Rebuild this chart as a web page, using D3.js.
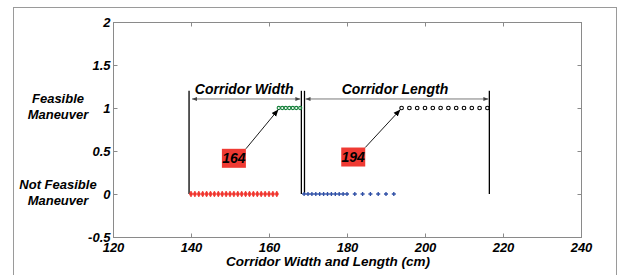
<!DOCTYPE html>
<html>
<head>
<meta charset="utf-8" />
<script src="https://d3js.org/d3.v7.min.js"></script>
<style>
  body { margin: 0; background: #fff; }
  svg text { font-family: "Liberation Sans", Arial, sans-serif; font-weight: bold; font-style: italic; }
  .axis path, .axis line { stroke: #8a8a8a; }
  .axis text { font-size: 13px; fill: #000; }
</style>
</head>
<body>
<svg id="chart" width="619" height="275"></svg>
<script>
// values
var notFeasibleWidth = [140,141,142,143,144,145,146,147,148,149,150,151,152,153,154,155,156,157,158,159,160,161,162];
var feasibleWidth = [162.5,163.4,164.3,165.2,166.1,167,168];
var notFeasibleLength = [169,170,171,172,173,174,175,176,177,178,179,180,182,184,186,188,190,192];
var feasibleLength = [194,196,198,200,202,204,206,208,210,212,214,216];
var boundaryLines = [139.5, 168.3, 169.1, 216.5];
var spans = [
  {label: "Corridor Width", from: 140, to: 168.3},
  {label: "Corridor Length", from: 169.1, to: 216.5}
];
var callouts = [
  {label: "164", bx: 151, by: 0.415, tx: 162.4},
  {label: "194", bx: 181.6, by: 0.43, tx: 193.7}
];
var xTicks = [120,140,160,180,200,220,240];
var yTicks = [-0.5,0,0.5,1,1.5,2];

var svg = d3.select("#chart");

// outer frame
svg.append("rect")
  .attr("x", 13.5).attr("y", 7.5)
  .attr("width", 603).attr("height", 300)
  .attr("fill", "none").attr("stroke", "#9a9a9a");

var pLeft = 113, pRight = 581, pTop = 22, pBottom = 237;
var x = d3.scaleLinear().domain([120, 240]).range([pLeft, pRight]);
var y = d3.scaleLinear().domain([-0.5, 2]).range([pBottom, pTop]);

var defs = svg.append("defs");
defs.append("marker")
  .attr("id", "head")
  .attr("viewBox", "0 0 10 10")
  .attr("refX", 10).attr("refY", 5)
  .attr("markerWidth", 7).attr("markerHeight", 7)
  .attr("orient", "auto-start-reverse")
  .attr("markerUnits", "userSpaceOnUse")
  .append("path").attr("d", "M0,1 L10,5 L0,9 Z").attr("fill", "#000");

defs.append("marker")
  .attr("id", "small")
  .attr("viewBox", "0 0 10 10")
  .attr("refX", 10).attr("refY", 5)
  .attr("markerWidth", 6).attr("markerHeight", 5)
  .attr("orient", "auto-start-reverse")
  .attr("markerUnits", "userSpaceOnUse")
  .append("path").attr("d", "M0,1 L10,5 L0,9 Z").attr("fill", "#444");

// axes box with inward ticks
svg.append("rect")
  .attr("x", pLeft + 0.5).attr("y", pTop + 0.5)
  .attr("width", pRight - pLeft).attr("height", pBottom - pTop)
  .attr("fill", "none").attr("stroke", "#8a8a8a");

svg.append("g").attr("class", "axis")
  .attr("transform", "translate(0," + (pBottom + 0.5) + ")")
  .call(d3.axisBottom(x).tickValues(xTicks).tickSizeInner(-4).tickSizeOuter(0).tickPadding(5).tickFormat(d3.format("d")))
  .call(function(g){ g.select(".domain").remove(); });

svg.append("g").attr("class", "axis")
  .attr("transform", "translate(0," + (pTop + 0.5) + ")")
  .call(d3.axisTop(x).tickValues(xTicks).tickSizeInner(-4).tickSizeOuter(0).tickFormat(""))
  .call(function(g){ g.select(".domain").remove(); });

svg.append("g").attr("class", "axis")
  .attr("transform", "translate(" + (pLeft + 0.5) + ",0)")
  .call(d3.axisLeft(y).tickValues(yTicks).tickSizeInner(-4).tickSizeOuter(0).tickPadding(3).tickFormat(function(d){ return String(d); }))
  .call(function(g){ g.select(".domain").remove(); });

svg.append("g").attr("class", "axis")
  .attr("transform", "translate(" + (pRight + 0.5) + ",0)")
  .call(d3.axisRight(y).tickValues(yTicks).tickSizeInner(-4).tickSizeOuter(0).tickFormat(""))
  .call(function(g){ g.select(".domain").remove(); });

// vertical boundary lines
svg.selectAll(".bound").data(boundaryLines).enter().append("line")
  .attr("x1", function(d){ return x(d); }).attr("x2", function(d){ return x(d); })
  .attr("y1", y(0)).attr("y2", y(1.2))
  .attr("stroke", "#000").attr("stroke-width", 1.3);

// span arrows + labels
svg.selectAll(".span").data(spans).enter().append("line")
  .attr("x1", function(d){ return x(d.from) + 1; }).attr("x2", function(d){ return x(d.to) - 1; })
  .attr("y1", y(1.105)).attr("y2", y(1.105))
  .attr("stroke", "#555").attr("stroke-width", 0.8)
  .attr("marker-start", "url(#small)").attr("marker-end", "url(#small)");

svg.selectAll(".spanlabel").data(spans).enter().append("text")
  .attr("x", function(d){ return (x(d.from) + x(d.to)) / 2 - 2; })
  .attr("y", y(1.105) - 5)
  .attr("text-anchor", "middle")
  .attr("font-size", 14)
  .text(function(d){ return d.label; });

// markers
var diamond = d3.symbol().type(d3.symbolDiamond).size(10);
svg.selectAll(".red").data(notFeasibleWidth).enter().append("path")
  .attr("d", diamond)
  .attr("transform", function(d){ return "translate(" + x(d) + "," + y(0) + ")"; })
  .attr("fill", "#f0352e").attr("stroke", "#f0352e").attr("stroke-width", 0.7);

svg.selectAll(".green").data(feasibleWidth).enter().append("circle")
  .attr("cx", function(d){ return x(d); }).attr("cy", y(1)).attr("r", 1.6)
  .attr("fill", "none").attr("stroke", "#14803a").attr("stroke-width", 1.1);

var plus = d3.symbol().type(d3.symbolCross).size(9);
svg.selectAll(".blue").data(notFeasibleLength).enter().append("path")
  .attr("d", plus)
  .attr("transform", function(d){ return "translate(" + x(d) + "," + y(0) + ")"; })
  .attr("fill", "#3050a6");

svg.selectAll(".black").data(feasibleLength).enter().append("circle")
  .attr("cx", function(d){ return x(d); }).attr("cy", y(1)).attr("r", 1.8)
  .attr("fill", "none").attr("stroke", "#000").attr("stroke-width", 1.1);

// callouts
var bw = 24, bh = 19;
svg.selectAll(".arrow").data(callouts).enter().append("line")
  .attr("x1", function(d){ return x(d.bx) + bw / 2; })
  .attr("y1", function(d){ return y(d.by) - bh / 2; })
  .attr("x2", function(d){ return x(d.tx); })
  .attr("y2", y(1) + 1.5)
  .attr("stroke", "#000").attr("stroke-width", 0.9)
  .attr("marker-end", "url(#head)");

svg.selectAll(".box").data(callouts).enter().append("rect")
  .attr("x", function(d){ return x(d.bx) - bw / 2; })
  .attr("y", function(d){ return y(d.by) - bh / 2; })
  .attr("width", bw).attr("height", bh)
  .attr("fill", "#ef3a33");

svg.selectAll(".boxlabel").data(callouts).enter().append("text")
  .attr("x", function(d){ return x(d.bx); })
  .attr("y", function(d){ return y(d.by) + 5; })
  .attr("text-anchor", "middle")
  .attr("font-size", 14)
  .text(function(d){ return d.label; });

// y category labels
var cats = [["Feasible", "Maneuver", y(1)], ["Not Feasible", "Maneuver", y(0)]];
cats.forEach(function(c){
  svg.append("text").attr("x", 58).attr("y", c[2] - 5).attr("text-anchor", "middle")
    .attr("font-size", 13).text(c[0]);
  svg.append("text").attr("x", 58).attr("y", c[2] + 11).attr("text-anchor", "middle")
    .attr("font-size", 13).text(c[1]);
});

// x axis title
svg.append("text")
  .attr("x", 328).attr("y", 266)
  .attr("text-anchor", "middle")
  .attr("font-size", 13.5)
  .text("Corridor Width and Length (cm)");
</script>
</body>
</html>
